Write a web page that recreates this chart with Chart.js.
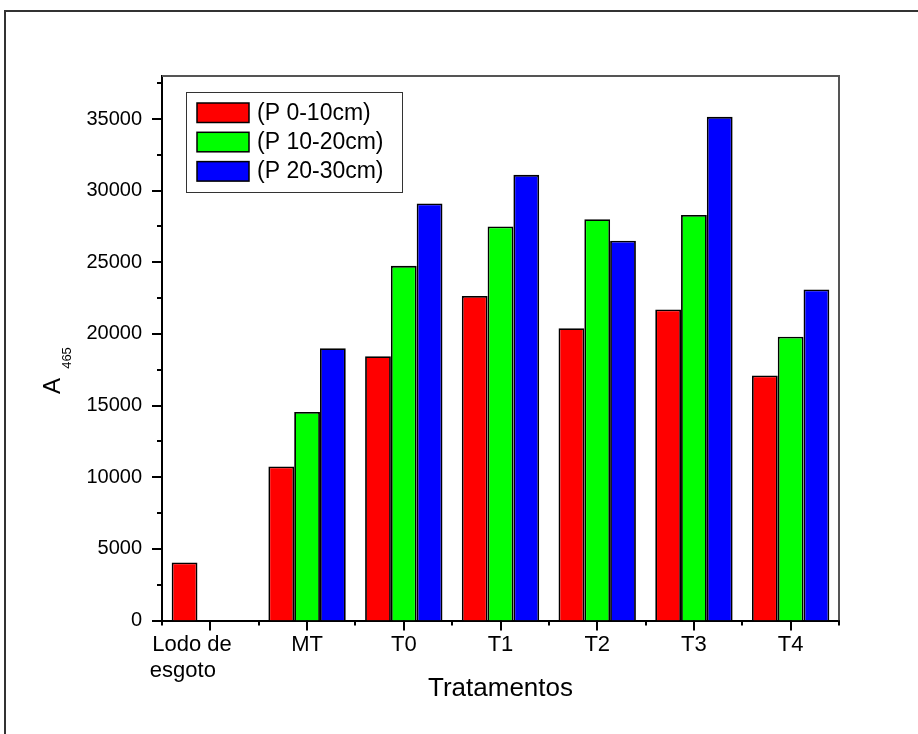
<!DOCTYPE html>
<html>
<head>
<meta charset="utf-8">
<script src="https://cdn.jsdelivr.net/npm/chart.js@4/dist/chart.umd.min.js"></script>
<style>
  body { margin: 0; background: #fff; }
  #frame { position: absolute; left: 4px; top: 10px; width: 1000px; height: 1000px; border: 2px solid #333; }
  #wrap { position: absolute; left: 0; top: 0; width: 918px; height: 734px; }
</style>
</head>
<body>
<div id="frame"></div>
<div id="wrap"><canvas id="myChart" width="918" height="734"></canvas></div>
<script>
const categorias = [["Lodo de      ", "esgoto         "], "MT", "T0", "T1", "T2", "T3", "T4"];
const p0_10 = [4050, 10750, 18450, 22650, 20400, 21700, 17100];
const p10_20 = [null, 14550, 24750, 27500, 28000, 28300, 19800];
const p20_30 = [null, 19000, 29100, 31100, 26500, 35150, 23100];
const etiquetas = ["(P 0-10cm)", "(P 10-20cm)", "(P 20-30cm)"];
const colores = ["#ff0000", "#00ff00", "#0000ff"];
// ticks del eje y (los de 5000 llevan numero, los intermedios no)
const ticksY = [0, 2500, 5000, 7500, 10000, 12500, 15000, 17500, 20000,
  22500, 25000, 27500, 30000, 32500, 35000, 37500];

const fuente = "'Liberation Sans', Arial, sans-serif";
const ctx = document.getElementById("myChart");

// marco del area, ticks, titulo del eje y y leyenda
const extras = {
  id: "extras",
  beforeDatasetsDraw(chart) {
    const c = chart.ctx, a = chart.chartArea;
    c.save();
    c.strokeStyle = "#555";
    c.lineWidth = 2;
    c.beginPath();
    c.moveTo(a.left, a.top);
    c.lineTo(a.right, a.top);
    c.lineTo(a.right, a.bottom);
    c.stroke();
    c.restore();
  },
  afterDraw(chart) {
    const c = chart.ctx, a = chart.chartArea;
    const y = chart.scales.y, x = chart.scales.x;
    c.save();
    c.strokeStyle = "#000";
    c.lineWidth = 2;
    c.beginPath();
    y.ticks.forEach(t => {
      const py = Math.round(y.getPixelForValue(t.value));
      const len = t.value % 5000 === 0 ? 10 : 5;
      c.moveTo(a.left - len, py);
      c.lineTo(a.left, py);
    });
    for (let i = 0; i < categorias.length; i++) {
      const pc = Math.round(x.getPixelForValue(i));
      c.moveTo(pc, a.bottom);
      c.lineTo(pc, a.bottom + 10);
      const pb = Math.round(x.getPixelForValue(i - 0.5));
      c.moveTo(pb, a.bottom);
      c.lineTo(pb, a.bottom + 5);
    }
    const pe = Math.round(x.getPixelForValue(categorias.length - 0.5));
    c.moveTo(pe, a.bottom);
    c.lineTo(pe, a.bottom + 5);
    c.stroke();

    // titulo eje y: A con subindice 465
    c.fillStyle = "#000";
    c.save();
    c.translate(53, 386);
    c.rotate(-Math.PI / 2);
    c.textAlign = "center";
    c.textBaseline = "middle";
    c.font = "24px " + fuente;
    c.fillText("A", 0, 0);
    c.font = "13px " + fuente;
    c.fillText("465", 28, 14);
    c.restore();

    // leyenda
    c.strokeStyle = "#333";
    c.lineWidth = 1;
    c.strokeRect(186.5, 92.5, 216, 100);
    c.font = "23px " + fuente;
    c.textAlign = "left";
    c.textBaseline = "middle";
    chart.data.datasets.forEach((ds, i) => {
      const top = 103 + i * 29.3;
      c.fillStyle = ds.backgroundColor;
      c.fillRect(197, top, 52, 19.5);
      c.strokeStyle = "#000";
      c.lineWidth = 1.5;
      c.strokeRect(197, top, 52, 19.5);
      c.fillStyle = "#000";
      c.fillText(ds.label, 257, top + 10.5);
    });
    c.restore();
  }
};

new Chart(ctx, {
  type: "bar",
  data: {
    labels: categorias,
    datasets: [
      { label: etiquetas[0], data: p0_10, backgroundColor: colores[0] },
      { label: etiquetas[1], data: p10_20, backgroundColor: colores[1] },
      { label: etiquetas[2], data: p20_30, backgroundColor: colores[2] },
    ],
  },
  options: {
    responsive: false,
    animation: false,
    devicePixelRatio: 1,
    layout: { padding: { top: 76, right: 79, left: 0, bottom: 0 } },
    datasets: {
      bar: {
        categoryPercentage: 0.8,
        barPercentage: 1.0,
        borderColor: "#000",
        borderWidth: 1.8,
      },
    },
    plugins: {
      legend: { display: false },
      tooltip: { enabled: false },
    },
    scales: {
      x: {
        offset: true,
        grid: { display: false, drawTicks: false },
        border: { display: true, color: "#000", width: 2 },
        ticks: {
          color: "#000",
          padding: 12,
          maxRotation: 0,
          autoSkip: false,
          font: { family: fuente, size: 22, lineHeight: 1.15 },
        },
        title: {
          display: true,
          text: "Tratamentos",
          color: "#000",
          font: { family: fuente, size: 26 },
          padding: { top: 0, bottom: 30 },
        },
        afterFit: (s) => { s.height = 113.5; },
      },
      y: {
        min: 0,
        max: 38000,
        grid: { display: false, drawTicks: false },
        border: { display: true, color: "#000", width: 2 },
        afterBuildTicks: (s) => { s.ticks = ticksY.map(v => ({ value: v })); },
        ticks: {
          autoSkip: false,
          color: "#000",
          padding: 20,
          font: { family: fuente, size: 20 },
          callback: (v) => (v % 5000 === 0 ? String(v) : ""),
        },
        afterFit: (s) => { s.width = 162; },
      },
    },
  },
  plugins: [extras],
});
</script>
</body>
</html>
